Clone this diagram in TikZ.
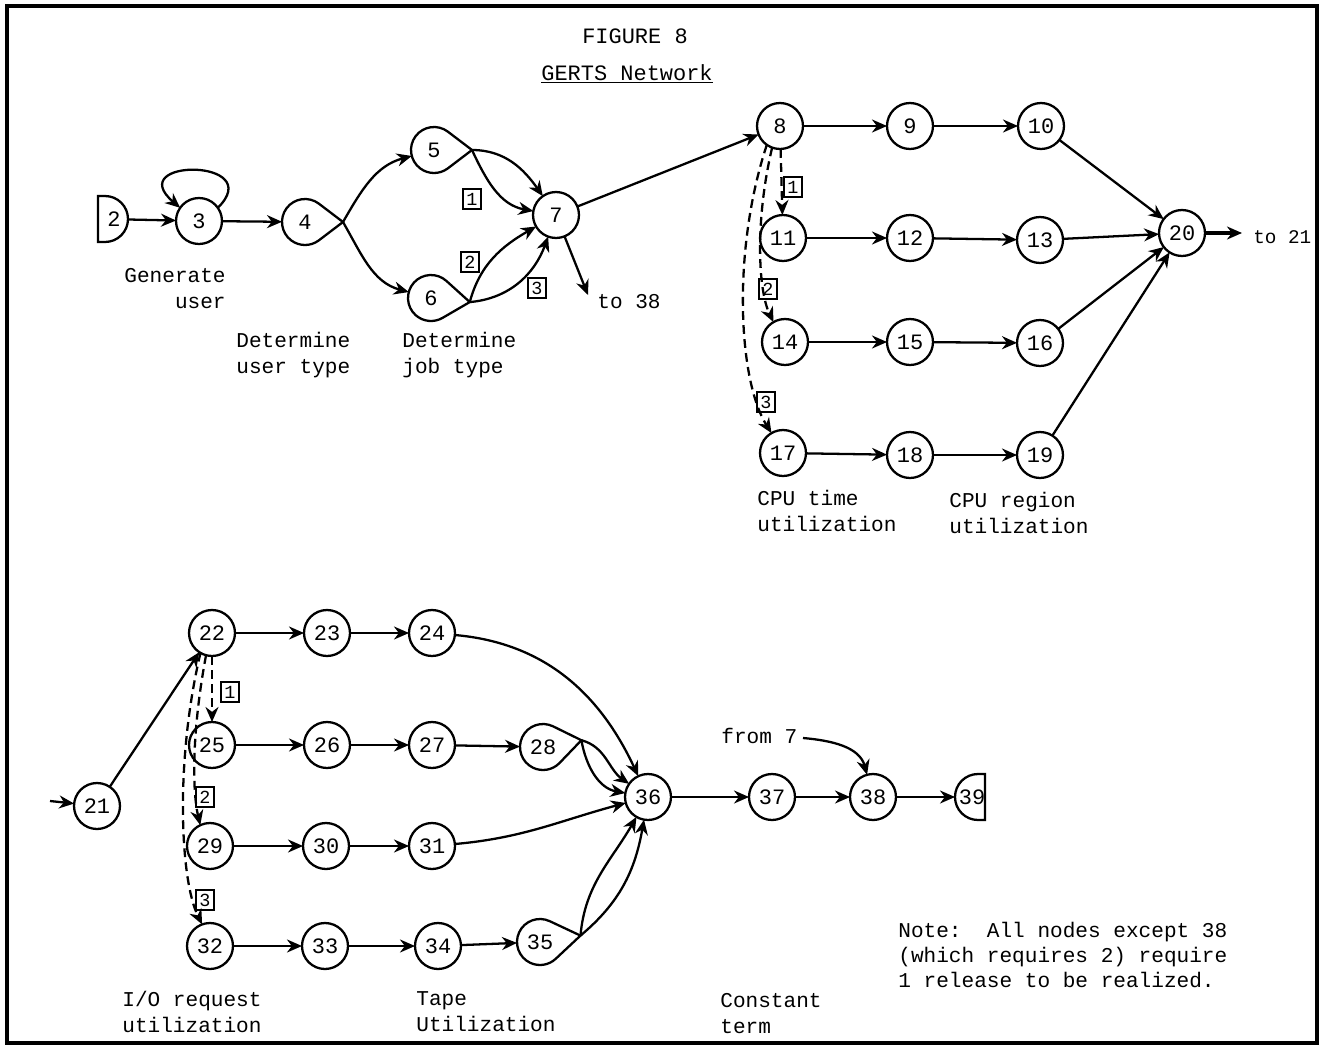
\documentclass[tikz,border=0pt]{standalone}
\usepackage{fontspec}
\setmainfont{Liberation Mono}
\usetikzlibrary{arrows.meta,positioning,calc}
\tikzset{
  gnode/.style={draw, circle, line width=1.3pt, minimum size=9.2mm, inner sep=0pt, outer sep=0pt, font=\fontsize{12.5}{12.5}\selectfont},
  tearnode/.style={gnode, draw=none},
  gline/.style={line width=1.3pt},
  flow/.style={-{Stealth[length=3mm,width=2.6mm]}, line width=1.3pt},
  dflow/.style={flow, dash pattern=on 5pt off 3pt},
  relbox/.style={draw, line width=1pt, inner sep=0pt, minimum width=3.6mm, minimum height=4mm, font=\fontsize{10.5}{10.5}\selectfont},
  caption/.style={anchor=west, align=left, inner sep=0pt, font=\fontsize{12}{14.8}\selectfont}
}

\begin{document}
\begin{tikzpicture}[x=0.02cm, y=-0.02cm]
\useasboundingbox (0,0) rectangle (1323,1045);
\draw[line width=2.4pt] (7,6) rectangle (1317,1043);
\node[font=\fontsize{12.5}{13}\selectfont] (fig) at (635,36) {FIGURE 8};
\node[font=\fontsize{12.5}{13}\selectfont] (title) at (627,74) {\underline{GERTS Network}};

% user and job generation
\node[gnode, draw=none] (n2) at (105,219) {};
\draw[gline] (n2.north) arc[start angle=90, end angle=-90, radius=4.6mm] -- ++(-7,0) |- (n2.north) -- cycle;
\node[font=\fontsize{12.5}{12.5}\selectfont] (t2) at (114,219) {2};
\node[gnode] (n3) at (199,221) {3};
\node[tearnode] (n4) at (305,222) {4};
\coordinate (p4) at ($(n4)+(0:7.6mm)$);
\draw[gline] (p4) -- ($(n4)+(53:4.6mm)$) arc[start angle=53, end angle=307, radius=4.6mm] -- cycle;
\node[tearnode] (n5) at (434,150) {5};
\coordinate (p5) at ($(n5)+(0:7.6mm)$);
\draw[gline] (p5) -- ($(n5)+(53:4.6mm)$) arc[start angle=53, end angle=307, radius=4.6mm] -- cycle;
\node[tearnode] (n6) at (431,298) {6};
\coordinate (p6) at ($(n6)+(-6:7.8mm)$);
\draw[gline] (p6) -- ($(n6)+(48:4.6mm)$) arc[start angle=48, end angle=300, radius=4.6mm] -- cycle;
\node[gnode] (n7) at (556,215) {7};

\draw[flow] (n2) -- (n3);
\draw[flow] (n3.35) .. controls (268,158) and (122,158) .. (n3.145);
\draw[flow] (n3) -- (n4);
\draw[flow] (p4) to[out=60, in=195] (n5);
\draw[flow] (p4) to[out=-60, in=165] (n6);
\draw[flow] (p5) to[out=0, in=125] (n7);
\draw[flow] (p5) to[out=-65, in=170] (n7);
\draw[flow] (p6) to[out=75, in=210] (n7);
\draw[flow] (p6) to[out=5, in=250] (n7);
\node[relbox] (r1) at (472,199) {1};
\node[relbox] (r2) at (470,262) {2};
\node[relbox] (r3) at (537,288) {3};
\coordinate (to38tip) at (588,295);
\draw[flow] (n7) -- (to38tip);
\node[caption] (to38) at (597,302) {to 38};

% CPU time and region
\node[gnode] (n8) at (780,126) {8};
\node[gnode] (n9) at (910,126) {9};
\node[gnode] (n10) at (1041,126) {10};
\node[gnode] (n11) at (783,238) {11};
\node[gnode] (n12) at (910,238) {12};
\node[gnode] (n13) at (1040,240) {13};
\node[gnode] (n14) at (785,342) {14};
\node[gnode] (n15) at (910,342) {15};
\node[gnode] (n16) at (1040,343) {16};
\node[gnode] (n17) at (783,453) {17};
\node[gnode] (n18) at (910,455) {18};
\node[gnode] (n19) at (1040,455) {19};
\node[gnode] (n20) at (1182,233) {20};

\draw[flow] (n7) -- (n8);
\draw[flow] (n8) -- (n9);
\draw[flow] (n9) -- (n10);
\draw[flow] (n11) -- (n12);
\draw[flow] (n12) -- (n13);
\draw[flow] (n14) -- (n15);
\draw[flow] (n15) -- (n16);
\draw[flow] (n17) -- (n18);
\draw[flow] (n18) -- (n19);
\draw[flow] (n10) -- (n20);
\draw[flow] (n13) -- (n20);
\draw[flow] (n16) -- (n20);
\draw[flow] (n19) -- (n20);
\draw[dflow] (n8) -- (n11);
\draw[dflow] (n8.250) .. controls (755,220) and (758,290) .. (n14.120);
\draw[dflow] (n8.235) .. controls (732,250) and (738,380) .. (n17.120);
\node[relbox] (s1) at (793,187) {1};
\node[relbox] (s2) at (768,289) {2};
\node[relbox] (s3) at (766,402) {3};
\coordinate (to21tip) at (1242,233);
\draw[flow, line width=1.8pt] (n20) -- (to21tip);
\node[caption, font=\fontsize{11}{12}\selectfont] (to21) at (1253,237) {to 21};

% I/O and tape
\node[gnode] (n21) at (97,806) {21};
\node[gnode] (n22) at (212,633) {22};
\node[gnode] (n23) at (327,633) {23};
\node[gnode] (n24) at (432,633) {24};
\node[gnode] (n25) at (212,745) {25};
\node[gnode] (n26) at (327,745) {26};
\node[gnode] (n27) at (432,745) {27};
\node[tearnode] (n28) at (543,747) {28};
\coordinate (p28) at ($(n28)+(10:7.8mm)$);
\draw[gline] (p28) -- ($(n28)+(64:4.6mm)$) arc[start angle=64, end angle=316, radius=4.6mm] -- cycle;
\node[gnode] (n29) at (210,846) {29};
\node[gnode] (n30) at (326,846) {30};
\node[gnode] (n31) at (432,846) {31};
\node[gnode] (n32) at (210,946) {32};
\node[gnode] (n33) at (325,946) {33};
\node[gnode] (n34) at (438,946) {34};
\node[tearnode] (n35) at (540,942) {35};
\coordinate (p35) at ($(n35)+(9:8.2mm)$);
\draw[gline] (p35) -- ($(n35)+(65:4.6mm)$) arc[start angle=65, end angle=313, radius=4.6mm] -- cycle;
\node[gnode] (n36) at (648,797) {36};
\node[gnode] (n37) at (772,797) {37};
\node[gnode] (n38) at (873,797) {38};
\node[gnode, draw=none] (n39) at (978,797) {};
\draw[gline] (n39.north) arc[start angle=90, end angle=270, radius=4.6mm] -- ++(7,0) |- (n39.north) -- cycle;
\node[font=\fontsize{12.5}{12.5}\selectfont] (t39) at (972,797) {39};

\coordinate (in21) at (50,801);
\draw[flow] (in21) -- (n21);
\draw[flow] (n21) -- (n22);
\draw[flow] (n22) -- (n23);
\draw[flow] (n23) -- (n24);
\draw[flow] (n25) -- (n26);
\draw[flow] (n26) -- (n27);
\draw[flow] (n27) -- (n28);
\draw[flow] (n29) -- (n30);
\draw[flow] (n30) -- (n31);
\draw[flow] (n32) -- (n33);
\draw[flow] (n33) -- (n34);
\draw[flow] (n34) -- (n35);
\draw[dflow] (n22) -- (n25);
\draw[dflow] (n22.255) .. controls (192,730) and (192,790) .. (n29.115);
\draw[dflow] (n22.240) .. controls (175,760) and (180,880) .. (n32.110);
\node[relbox] (u1) at (230,692) {1};
\node[relbox] (u2) at (205,797) {2};
\node[relbox] (u3) at (205,900) {3};
\draw[flow] (n24) to[out=-5, in=115] (n36);
\draw[flow] (p28) to[out=-15, in=145] (n36);
\draw[flow] (p28) to[out=-80, in=170] (n36);
\draw[flow] (n31) to[out=5, in=195] (n36);
\draw[flow] (p35) to[out=85, in=240] (n36);
\draw[flow] (p35) to[out=40, in=260] (n36);
\draw[flow] (n36) -- (n37);
\draw[flow] (n37) -- (n38);
\draw[flow] (n38) -- (n39);
\node[caption] (from7) at (721,736) {from 7};
\coordinate (from7end) at (803,738);
\draw[flow] (from7end) to[out=-5, in=105] (n38);

% captions
\node[caption, anchor=east, align=right] (capgen) at (226,289) {Generate\\user};
\node[caption] (capuser) at (236,355) {Determine\\user type};
\node[caption] (capjob) at (402,355) {Determine\\job type};
\node[caption] (capcput) at (757,511) {CPU time\\utilization};
\node[caption] (capcpur) at (949,513) {CPU region\\utilization};
\node[caption] (capio) at (122,1012) {I/O request\\utilization};
\node[caption] (captape) at (416,1012) {Tape\\Utilization};
\node[caption] (capconst) at (720,1014) {Constant\\term};
\node[caption, font=\fontsize{12}{14.2}\selectfont] (note) at (898,955) {Note:\ \ All nodes except 38\\(which requires 2) require\\1 release to be realized.};
\end{tikzpicture}
\end{document}
